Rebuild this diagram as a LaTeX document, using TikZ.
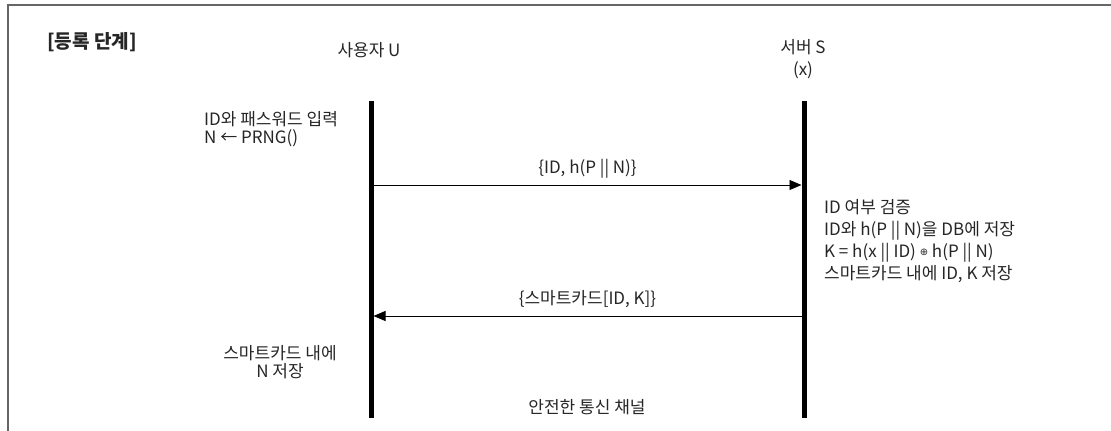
\documentclass[tikz,border=0pt]{standalone}
\usepackage{fontspec}
\setmainfont{Noto Sans CJK KR}
\newfontfamily\symfont{DejaVu Sans}
\usetikzlibrary{arrows.meta}
\begin{document}
\begin{tikzpicture}[x=1pt,y=-1pt,
  lifeline/.style={line width=5pt},
  msg/.style={line width=0.9pt,-{Triangle[length=12pt,width=10pt]}},
  txt/.style={inner sep=0pt,text=black!85,font=\fontsize{17}{20}\selectfont},
  frameline/.style={draw=black!60,line width=2pt}]
\useasboundingbox (0,0) rectangle (1111,431);
\fill[white] (0,0) rectangle (1111,431);
\draw[frameline] (8,431) -- (8,4.5) -- (1111,4.5);
% lifelines
\coordinate (ut) at (371,101); \coordinate (ub) at (371,418);
\coordinate (st) at (804,101); \coordinate (sb) at (804,418);
\draw[lifeline] (ut) -- (ub);
\draw[lifeline] (st) -- (sb);
% headings
\node[txt,font=\fontsize{19}{24}\selectfont\bfseries,anchor=west] (title) at (47,42) {[등록 단계]};
\node[txt] (user) at (369,50) {사용자 U};
\node[txt,align=center,font=\fontsize{17}{22}\selectfont,anchor=north] (server) at (803,39) {서버 S\\(x)};
% messages
\coordinate (u1) at (373.5,185); \coordinate (s1) at (801.5,185);
\coordinate (s2) at (801.5,316); \coordinate (u2) at (373.5,316);
\draw[msg] (u1) -- (s1) node[midway,above=6pt,txt] (m1) {\{ID, h(P || N)\}};
\draw[msg] (s2) -- (u2) node[midway,above=8pt,txt] (m2) {\{스마트카드[ID, K]\}};
% notes
\node[txt,align=left,anchor=north west,font=\fontsize{17}{18}\selectfont] (n1) at (204,111) {ID와 패스워드 입력\\N ← PRNG()};
\node[txt,align=left,anchor=north west,font=\fontsize{17}{22.2}\selectfont] (n2) at (824,199) {ID 여부 검증\\ID와 h(P || N)을 DB에 저장\\K = h(x || ID) {\symfont\fontsize{10}{10}\selectfont\raisebox{2pt}{⊕}} h(P || N)\\스마트카드 내에 ID, K 저장};
\node[txt,align=center,anchor=north,font=\fontsize{17}{18}\selectfont] (n3) at (280,345) {스마트카드 내에\\N 저장};
\node[txt] (chan) at (587,407) {안전한 통신 채널};
\end{tikzpicture}
\end{document}
